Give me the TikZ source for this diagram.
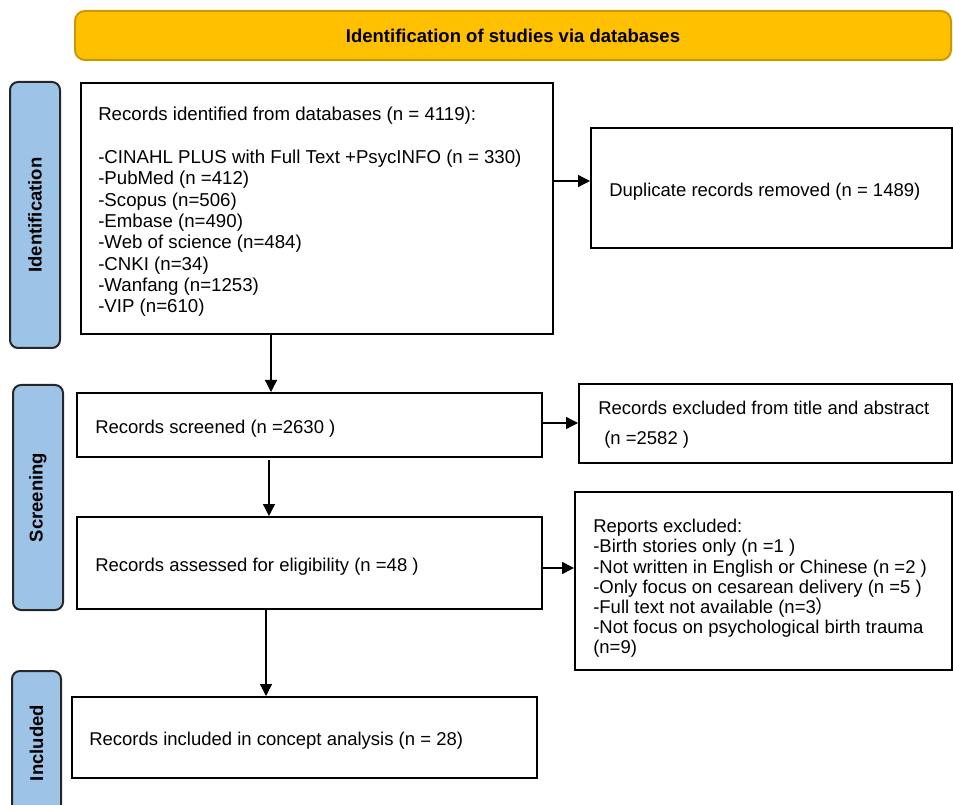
\documentclass[tikz,border=0pt]{standalone}
\usepackage{fontspec}
\setmainfont{Liberation Sans}
\newfontfamily\cjk{Noto Sans CJK SC}
\usetikzlibrary{arrows.meta}
\newdimen\upx \upx=0.75pt
\definecolor{bannerfill}{HTML}{FFC000}
\definecolor{bannerline}{HTML}{C99A00}
\definecolor{sidefill}{HTML}{9DC3E6}
\tikzset{
  box/.style={draw=black, line width=1.5pt, fill=white, inner sep=0pt},
  txt/.style={anchor=west, align=left, inner sep=0pt, yshift=-2.6pt,
    font=\fontsize{13.875}{16}\selectfont},
  sidelab/.style={draw=black!85, line width=1.5pt, fill=sidefill, rounded corners=6pt,
    inner sep=0pt, font=\fontsize{13.875}{16}\selectfont\bfseries},
  banner/.style={draw=bannerline, line width=1.5pt, fill=bannerfill, rounded corners=7.5pt,
    inner sep=0pt, font=\fontsize{13.875}{16}\selectfont\bfseries},
  arr/.style={line width=1pt, -{Triangle[length=9pt, width=9pt]}}
}
\begin{document}
\begin{tikzpicture}[x=0.75pt, y=-0.75pt]
\useasboundingbox (0,0) rectangle (953,805);
% banner
\node[banner, minimum width=876\upx, minimum height=49\upx] (ban) at (513,35.5) {Identification of studies via databases};
% side labels
\node[sidelab, minimum width=50\upx, minimum height=266\upx] (idl) at (35,215) {\rotatebox{90}{Identification}};
\node[sidelab, minimum width=50\upx, minimum height=225\upx] (scl) at (38,497.5) {\rotatebox{90}{Screening}};
\node[sidelab, minimum width=49\upx, minimum height=144\upx] (inl) at (36.5,743) {\rotatebox{90}{Included}};
% boxes
\node[box, minimum width=472\upx, minimum height=251\upx] (db) at (317,208.5) {};
\node[box, minimum width=361\upx, minimum height=120\upx] (dup) at (771.5,188) {};
\node[box, minimum width=465\upx, minimum height=64\upx] (scr) at (309.5,425) {};
\node[box, minimum width=373\upx, minimum height=79\upx] (exc) at (765.5,423.5) {};
\node[box, minimum width=465\upx, minimum height=92\upx] (ass) at (309.5,563) {};
\node[box, minimum width=377\upx, minimum height=178\upx] (rep) at (763.5,581) {};
\node[box, minimum width=465\upx, minimum height=81\upx] (inc) at (304.5,737.5) {};
% texts
\node[txt, font=\fontsize{14}{16}\selectfont] (dbt) at ([xshift=18\upx]db.west)
 {Records identified from databases (n = 4119):\\[16pt]
  -CINAHL PLUS with Full Text +PsycINFO (n = 330)\\
  -PubMed (n =412)\\
  -Scopus (n=506)\\
  -Embase (n=490)\\
  -Web of science (n=484)\\
  -CNKI (n=34)\\
  -Wanfang (n=1253)\\
  -VIP (n=610)};
\node[txt] (dupt) at ([xshift=19\upx]dup.west) {Duplicate records removed (n = 1489)};
\node[txt] (scrt) at ([xshift=19\upx]scr.west) {Records screened (n =2630 )};
\node[txt, yshift=1.9pt, font=\fontsize{13.875}{22.5}\selectfont] (exct) at ([xshift=20\upx]exc.west)
 {Records excluded from title and abstract\\
  \hspace*{6\upx}(n =2582 )};
\node[txt] (asst) at ([xshift=19\upx]ass.west) {Records assessed for eligibility (n =48 )};
\node[txt, yshift=-3pt, font=\fontsize{13.875}{15.15}\selectfont] (rept) at ([xshift=19\upx]rep.west)
 {Reports excluded:\\
  -Birth stories only (n =1 )\\
  -Not written in English or Chinese (n =2 )\\
  -Only focus on cesarean delivery (n =5 )\\
  -Full text not available (n=3{\cjk ）}\\
  -Not focus on psychological birth trauma\\
  (n=9)};
\node[txt] (inct) at ([xshift=18\upx]inc.west) {Records included in concept analysis (n = 28)};
% connector guides
\coordinate (v1) at (271,0);
\coordinate (v2) at (269,0);
\coordinate (v2s) at (269,460);
\coordinate (v3) at (266,0);
\coordinate (h1) at (0,181);
\coordinate (h2) at (0,423);
\coordinate (h3) at (0,568);
% connectors
\draw[arr] (db.south -| v1) -- (scr.north -| v1);
\draw[arr] (v2s) -- (ass.north -| v2);
\draw[arr] (ass.south -| v3) -- (inc.north -| v3);
\draw[arr] (db.east |- h1) -- (dup.west |- h1);
\draw[arr] (scr.east |- h2) -- (exc.west |- h2);
\draw[arr] (ass.east |- h3) -- (rep.west |- h3);
\end{tikzpicture}
\end{document}
